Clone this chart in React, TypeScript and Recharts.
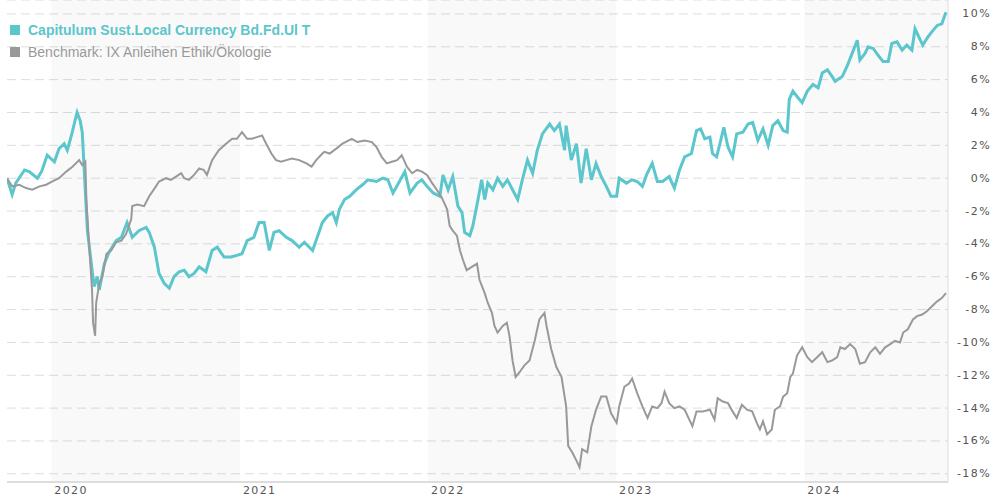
import React from 'react';
import { LineChart, Line, XAxis, YAxis, CartesianGrid, ReferenceArea } from 'recharts';

// Capitulum fund, % change since start
const fundDates = [
  '2019-10-07', '2019-10-17', '2019-10-24', '2019-11-10', '2019-11-19', '2019-12-05', '2019-12-13', '2019-12-24',
  '2020-01-07', '2020-01-16', '2020-01-26', '2020-02-01', '2020-02-09', '2020-02-16', '2020-02-20', '2020-02-26',
  '2020-03-01', '2020-03-11', '2020-03-24', '2020-03-30', '2020-04-03', '2020-04-13', '2020-04-22', '2020-05-06',
  '2020-05-16', '2020-05-27', '2020-06-06', '2020-06-19', '2020-07-03', '2020-07-09', '2020-07-19', '2020-07-28',
  '2020-08-07', '2020-08-17', '2020-08-26', '2020-09-05', '2020-09-15', '2020-09-24', '2020-10-04', '2020-10-14',
  '2020-10-27', '2020-11-08', '2020-11-18', '2020-12-01', '2020-12-15', '2020-12-26', '2021-01-05', '2021-01-15',
  '2021-01-28', '2021-02-07', '2021-02-17', '2021-02-27', '2021-03-08', '2021-03-18', '2021-04-01', '2021-04-12',
  '2021-04-26', '2021-05-06', '2021-05-22', '2021-05-31', '2021-06-10', '2021-06-20', '2021-06-30', '2021-07-07',
  '2021-07-13', '2021-07-23', '2021-08-02', '2021-08-15', '2021-08-27', '2021-09-06', '2021-09-23', '2021-10-05',
  '2021-10-15', '2021-10-25', '2021-11-03', '2021-11-17', '2021-11-27', '2021-12-11', '2021-12-20', '2021-12-30',
  '2022-01-11', '2022-01-24', '2022-01-30', '2022-02-09', '2022-02-18', '2022-02-28', '2022-03-08', '2022-03-13',
  '2022-03-23', '2022-03-29', '2022-04-08', '2022-04-15', '2022-04-21', '2022-04-27', '2022-05-07', '2022-05-16',
  '2022-05-26', '2022-06-04', '2022-06-14', '2022-06-24', '2022-07-03', '2022-07-13', '2022-07-23', '2022-08-01',
  '2022-08-11', '2022-08-25', '2022-09-03', '2022-09-13', '2022-09-23', '2022-09-26', '2022-10-06', '2022-10-16',
  '2022-10-25', '2022-11-04', '2022-11-14', '2022-11-23', '2022-12-03', '2022-12-13', '2022-12-22', '2023-01-02',
  '2023-01-07', '2023-01-21', '2023-02-01', '2023-02-11', '2023-02-21', '2023-03-01', '2023-03-12', '2023-03-22',
  '2023-04-01', '2023-04-14', '2023-04-24', '2023-05-04', '2023-05-14', '2023-05-27', '2023-06-06', '2023-06-14',
  '2023-06-22', '2023-07-02', '2023-07-07', '2023-07-15', '2023-07-23', '2023-07-29', '2023-08-06', '2023-08-15',
  '2023-08-23', '2023-09-04', '2023-09-14', '2023-09-23', '2023-10-03', '2023-10-13', '2023-10-23', '2023-11-01',
  '2023-11-11', '2023-11-21', '2023-11-29', '2023-12-03', '2023-12-10', '2023-12-20', '2023-12-28', '2024-01-07',
  '2024-01-18', '2024-01-28', '2024-02-05', '2024-02-15', '2024-02-24', '2024-03-01', '2024-03-15', '2024-03-24',
  '2024-04-03', '2024-04-13', '2024-04-18', '2024-04-28', '2024-05-04', '2024-05-14', '2024-05-23', '2024-06-02',
  '2024-06-12', '2024-06-19', '2024-06-29', '2024-07-09', '2024-07-18', '2024-07-28', '2024-08-03', '2024-08-09',
  '2024-08-18', '2024-08-28', '2024-09-07', '2024-09-15', '2024-09-24', '2024-10-02',
];
const fundValues = [
  0, -1.0, -0.3, 0.5, 0.4, 0.0, 0.4, 1.4,
  1.0, 1.8, 2.1, 1.7, 2.6, 3.5, 4.0, 3.5,
  2.8, -3.2, -6.6, -6.0, -6.8, -5.2, -4.5, -3.8,
  -3.6, -2.7, -3.6, -3.2, -3.0, -3.3, -4.2, -5.8,
  -6.4, -6.7, -6.0, -5.7, -5.6, -6.0, -5.8, -5.4,
  -5.7, -4.4, -4.2, -4.8, -4.8, -4.7, -4.6, -3.8,
  -3.6, -2.7, -2.7, -4.4, -3.3, -3.2, -3.6, -3.8,
  -4.2, -3.9, -4.4, -3.6, -2.7, -2.3, -2.1, -2.7,
  -1.9, -1.3, -1.1, -0.7, -0.4, -0.1, -0.2, 0.0,
  -0.1, -0.9, -0.4, 0.4, -0.9, -0.3, -0.1, -0.5,
  -0.9, -1.1, 0.2, -0.7, 0.1, -1.7, -2.1, -3.3,
  -3.5, -2.9, -1.3, -0.1, -1.3, -0.3, -0.7, 0.0,
  -0.5, -0.1, -0.7, -1.3, -0.1, 1.1, 0.3, 1.7,
  2.7, 3.3, 2.9, 3.3, 1.7, 3.2, 1.1, 2.1,
  -0.3, 1.8, -0.1, 0.9, 0.1, -0.5, -1.1, -1.1,
  0.0, -0.3, -0.1, -0.2, -0.5, 0.2, 0.9, -0.2,
  -0.2, 0.1, -0.6, 0.5, 1.3, 1.5, 2.9, 3.0,
  2.4, 2.5, 1.5, 1.3, 2.3, 3.1, 1.9, 1.3,
  2.7, 2.8, 3.3, 3.4, 2.3, 3.0, 2.0, 3.2,
  3.5, 2.9, 2.8, 4.8, 5.3, 4.9, 4.6, 5.3,
  5.7, 5.5, 6.4, 6.6, 6.2, 5.9, 6.2, 6.8,
  7.6, 8.4, 7.2, 7.6, 8.0, 7.9, 7.5, 7.1,
  7.1, 8.2, 8.3, 7.8, 8.1, 7.8, 9.1, 8.7,
  8.1, 8.6, 9.0, 9.3, 9.4, 10.1,
];

// Benchmark IX Anleihen Ethik/Ökologie, % change since start
const benchDates = [
  '2019-10-07', '2019-10-17', '2019-10-31', '2019-11-13', '2019-11-25', '2019-12-09', '2019-12-22', '2020-01-03',
  '2020-01-16', '2020-01-30', '2020-02-11', '2020-02-24', '2020-03-01', '2020-03-07', '2020-03-09', '2020-03-15',
  '2020-03-20', '2020-03-22', '2020-03-26', '2020-03-28', '2020-04-03', '2020-04-09', '2020-04-17', '2020-04-26',
  '2020-05-06', '2020-05-16', '2020-05-25', '2020-06-04', '2020-06-06', '2020-06-16', '2020-06-29', '2020-07-09',
  '2020-07-22', '2020-07-28', '2020-08-11', '2020-08-20', '2020-08-30', '2020-09-09', '2020-09-15', '2020-09-24',
  '2020-10-04', '2020-10-14', '2020-10-23', '2020-10-29', '2020-11-08', '2020-11-21', '2020-12-05', '2020-12-17',
  '2020-12-26', '2021-01-05', '2021-01-15', '2021-01-24', '2021-02-03', '2021-02-13', '2021-02-21', '2021-03-03',
  '2021-03-12', '2021-03-22', '2021-04-01', '2021-04-12', '2021-04-26', '2021-05-10', '2021-05-20', '2021-05-29',
  '2021-06-10', '2021-06-14', '2021-06-24', '2021-07-07', '2021-07-19', '2021-08-06', '2021-08-17', '2021-08-31',
  '2021-09-14', '2021-09-23', '2021-10-03', '2021-10-13', '2021-10-23', '2021-11-02', '2021-11-11', '2021-11-21',
  '2021-12-01', '2021-12-11', '2021-12-20', '2021-12-30', '2022-01-09', '2022-01-18', '2022-01-28', '2022-02-07',
  '2022-02-12', '2022-02-18', '2022-02-26', '2022-03-04', '2022-03-10', '2022-03-17', '2022-03-27', '2022-04-06',
  '2022-04-11', '2022-04-21', '2022-04-27', '2022-05-05', '2022-05-10', '2022-05-16', '2022-05-26', '2022-06-03',
  '2022-06-08', '2022-06-14', '2022-06-20', '2022-06-28', '2022-07-07', '2022-07-17', '2022-07-27', '2022-08-05',
  '2022-08-15', '2022-08-19', '2022-08-28', '2022-09-07', '2022-09-17', '2022-09-26', '2022-09-30', '2022-10-08',
  '2022-10-16', '2022-10-22', '2022-10-27', '2022-11-06', '2022-11-14', '2022-11-23', '2022-12-03', '2022-12-13',
  '2022-12-22', '2023-01-02', '2023-01-07', '2023-01-17', '2023-01-26', '2023-02-01', '2023-02-11', '2023-02-21',
  '2023-03-03', '2023-03-12', '2023-03-22', '2023-03-30', '2023-04-05', '2023-04-14', '2023-04-24', '2023-05-04',
  '2023-05-14', '2023-05-23', '2023-05-29', '2023-06-06', '2023-06-18', '2023-07-02', '2023-07-11', '2023-07-17',
  '2023-07-27', '2023-08-06', '2023-08-15', '2023-08-23', '2023-09-02', '2023-09-12', '2023-09-22', '2023-10-01',
  '2023-10-07', '2023-10-13', '2023-10-21', '2023-10-30', '2023-11-05', '2023-11-15', '2023-11-21', '2023-11-29',
  '2023-12-05', '2023-12-10', '2023-12-18', '2023-12-28', '2024-01-07', '2024-01-16', '2024-01-26', '2024-02-05',
  '2024-02-15', '2024-02-24', '2024-03-05', '2024-03-11', '2024-03-20', '2024-03-30', '2024-04-09', '2024-04-18',
  '2024-04-28', '2024-05-08', '2024-05-18', '2024-05-27', '2024-06-06', '2024-06-16', '2024-06-25', '2024-07-05',
  '2024-07-11', '2024-07-20', '2024-07-30', '2024-08-07', '2024-08-17', '2024-08-26', '2024-09-05', '2024-09-15',
  '2024-09-24', '2024-10-02',
];
const benchValues = [
  0, -0.5, -0.4, -0.6, -0.7, -0.5, -0.4, -0.2,
  0.0, 0.4, 0.7, 1.1, 0.8, 1.0, -1.3, -4.4,
  -6.8, -8.8, -9.6, -7.6, -6.4, -6.0, -4.6, -4.4,
  -3.9, -3.8, -3.4, -2.5, -1.7, -1.6, -1.7, -1.1,
  -0.5, -0.2, 0.0, -0.1, 0.1, 0.3, 0.0, -0.1,
  0.2, 0.6, 0.5, 0.2, 1.1, 1.7, 2.1, 2.4,
  2.4, 2.8, 2.4, 2.4, 2.5, 2.6, 2.1, 1.5,
  1.1, 1.0, 1.1, 1.2, 1.1, 0.9, 0.7, 1.1,
  1.5, 1.6, 1.5, 1.8, 2.1, 2.4, 2.2, 2.3,
  2.2, 1.9, 1.3, 0.9, 1.0, 1.1, 1.4, 0.7,
  0.3, 0.5, 0.4, 0.2, -0.3, -0.7, -1.2, -1.9,
  -2.9, -3.2, -3.5, -4.4, -5.0, -5.6, -5.4, -5.2,
  -6.2, -7.0, -7.6, -8.2, -9.0, -9.4, -9.0, -8.8,
  -9.6, -11.1, -12.1, -11.8, -11.4, -11.1, -9.9, -8.6,
  -8.2, -9.0, -10.4, -11.5, -12.1, -13.9, -16.3, -16.7,
  -17.2, -17.6, -16.5, -16.7, -15.1, -14.1, -13.3, -13.3,
  -14.3, -14.9, -13.9, -12.7, -12.5, -12.2, -13.1, -13.9,
  -14.6, -13.9, -14.0, -13.7, -13.0, -13.7, -14.0, -13.9,
  -14.1, -14.7, -15.1, -14.2, -14.2, -14.1, -14.7, -13.4,
  -13.6, -13.7, -14.2, -14.6, -13.8, -14.1, -14.2, -14.9,
  -15.3, -14.8, -15.6, -15.3, -14.1, -13.9, -13.3, -13.1,
  -12.1, -11.9, -10.8, -10.3, -10.9, -11.2, -10.9, -10.6,
  -11.2, -11.1, -10.9, -10.3, -10.4, -10.1, -10.4, -11.3,
  -11.2, -10.6, -10.3, -10.7, -10.3, -10.1, -9.9, -10.0,
  -9.4, -9.2, -8.6, -8.4, -8.3, -8.1, -7.8, -7.5,
  -7.3, -7.0,
];

const yearTicks = ['2020-01-01', '2021-01-01', '2022-01-01', '2023-01-01', '2024-01-01'];
const yearLabels = ['2020', '2021', '2022', '2023', '2024'];
const shadedYears = [['2020-01-01', '2021-01-01'], ['2022-01-01', '2023-01-01'], ['2024-01-01', '2024-10-06']];
const percentTicks = [-18, -16, -14, -12, -10, -8, -6, -4, -2, 0, 2, 4, 6, 8, 10];

const fundName = 'Capitulum Sust.Local Currency Bd.Fd.Ul T';
const benchName = 'Benchmark: IX Anleihen Ethik/Ökologie';

const TEAL = '#5bc6cb';
const GREY = '#999999';

const ts = (d: string) => Date.parse(d + 'T00:00:00Z');

const fundData = fundDates.map((d, i) => ({ t: ts(d), v: fundValues[i] }));
const benchData = benchDates.map((d, i) => ({ t: ts(d), v: benchValues[i] }));

const tickFont = { fontFamily: '"DejaVu Sans", Verdana, sans-serif', fontSize: 11, letterSpacing: 1.4, fill: '#555' };

const YearTick = (props: any) => {
  const { x, y, payload } = props;
  const idx = yearTicks.findIndex((d) => ts(d) === payload.value);
  return (
    <text x={x + 3} y={y + 6} textAnchor="start" dominantBaseline="central" {...tickFont}>
      {yearLabels[idx]}
    </text>
  );
};

const PercentTick = (props: any) => {
  const { y, payload } = props;
  return (
    <text x={991} y={y} textAnchor="end" dominantBaseline="central" {...tickFont}>
      {payload.value}%
    </text>
  );
};

const LegendRow = ({ color, label, bold, top }: { color: string; label: string; bold?: boolean; top: number }) => (
  <div style={{ position: 'absolute', left: 10, top, display: 'flex', alignItems: 'center', whiteSpace: 'nowrap' }}>
    <span style={{ width: 10, height: 10, background: color, display: 'inline-block', marginRight: 8 }} />
    <span style={{ color, fontFamily: '"Liberation Sans", Arial, sans-serif', fontSize: 14, fontWeight: bold ? 700 : 400 }}>
      {label}
    </span>
  </div>
);

export default function App() {
  return (
    <div style={{ position: 'absolute', left: 0, top: 0, width: 990, height: 500, background: '#fff' }}>
      <LineChart width={990} height={500} margin={{ top: 0, right: 0, bottom: 0, left: 7 }}>
        <CartesianGrid vertical={false} stroke="#dddddd" strokeDasharray="9 5" />
        {shadedYears.map(([a, b]) => (
          <ReferenceArea key={a} x1={ts(a)} x2={ts(b)} fill="#000" fillOpacity={0.025} stroke="none" ifOverflow="hidden" />
        ))}
        <XAxis
          type="number"
          dataKey="t"
          domain={[ts('2019-10-07'), ts('2024-10-06')]}
          ticks={yearTicks.map(ts)}
          interval={0}
          tick={<YearTick />}
          tickLine={false}
          tickSize={0}
          height={18}
          axisLine={{ stroke: '#dddddd', strokeWidth: 2 }}
          allowDataOverflow
        />
        <YAxis
          orientation="right"
          domain={[-18.5, 10.85]}
          ticks={percentTicks}
          interval={0}
          tick={<PercentTick />}
          tickLine={false}
          width={42}
          axisLine={{ stroke: '#dddddd' }}
          allowDataOverflow
        />
        <Line data={fundData} dataKey="v" type="linear" stroke={TEAL} strokeWidth={3} dot={false} isAnimationActive={false} />
        <Line data={benchData} dataKey="v" type="linear" stroke={GREY} strokeWidth={2} dot={false} isAnimationActive={false} />
      </LineChart>
      <LegendRow color={TEAL} label={fundName} bold top={22} />
      <LegendRow color={GREY} label={benchName} top={44} />
    </div>
  );
}
